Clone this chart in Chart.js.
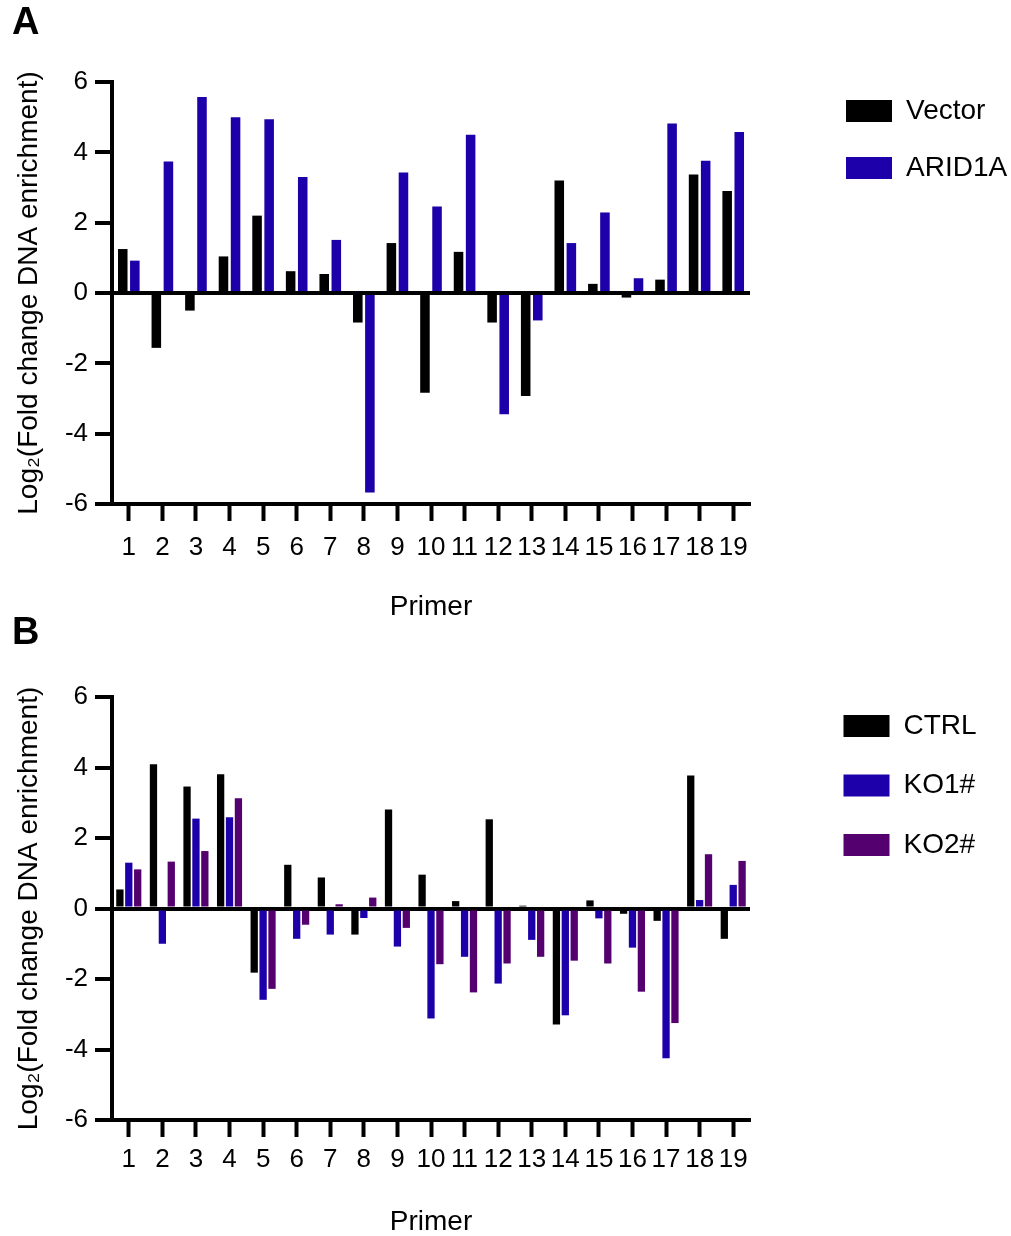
<!DOCTYPE html>
<html>
<head>
<meta charset="utf-8">
<script src="https://cdn.jsdelivr.net/npm/chart.js@4.4.1/dist/chart.umd.min.js"></script>
<style>
  html, body { margin: 0; padding: 0; background: #fff; overflow: hidden; }
  .panel { position: absolute; left: 0; width: 1011px; }
  #panelA { top: 0; height: 625px; }
  #panelB { top: 603px; height: 633px; }
</style>
</head>
<body>
<div class="panel" id="panelA"><canvas id="chartA"></canvas></div>
<div class="panel" id="panelB"><canvas id="chartB"></canvas></div>
<script>
// primers 1..19
const primers = ["1", "2", "3", "4", "5", "6", "7", "8", "9", "10", "11", "12", "13", "14", "15", "16", "17", "18", "19"]
const yTicks = [-6, -4, -2, 0, 2, 4, 6]

// panel A
const vectorValues = [1.25, -1.56, -0.50, 1.04, 2.20, 0.62, 0.54, -0.84, 1.42, -2.84, 1.17, -0.84, -2.93, 3.20, 0.26, -0.13, 0.38, 3.37, 2.90]
const arid1aValues = [0.92, 3.74, 5.57, 5.00, 4.94, 3.30, 1.51, -5.67, 3.43, 2.46, 4.50, -3.45, -0.78, 1.42, 2.29, 0.42, 4.82, 3.76, 4.58]

// panel B
const ctrlValues = [0.54, 4.09, 3.46, 3.81, -1.82, 1.24, 0.88, -0.74, 2.81, 0.96, 0.21, 2.53, 0.08, -3.29, 0.23, -0.15, -0.35, 3.77, -0.86]
const ko1Values = [1.30, -1.00, 2.55, 2.59, -2.59, -0.86, -0.74, -0.27, -1.08, -3.12, -1.37, -2.13, -0.89, -3.03, -0.28, -1.11, -4.25, 0.24, 0.67]
const ko2Values = [1.11, 1.33, 1.63, 3.13, -2.28, -0.46, 0.12, 0.31, -0.55, -1.58, -2.38, -1.56, -1.37, -1.48, -1.56, -2.36, -3.25, 1.54, 1.35]

const BLACK = "#000000"
const BLUE = "#1D00A9"
const PURPLE = "#55006F"

Chart.defaults.font.family = "'Liberation Sans', Arial, sans-serif"
Chart.defaults.color = "#000"
Chart.defaults.animation = false

// move the legend away from the plot, like the original figure
const legendShift = {
    id: "legendShift",
    afterLayout(chart, args, opts) {
        const l = chart.legend
        if (!l) return
        l.left += opts.dx
        l.right += opts.dx
    }
}

function makeOptions(p) {
    return {
        responsive: true,
        maintainAspectRatio: false,
        layout: { padding: { left: 12, right: 0, top: 0, bottom: 0 } },
        datasets: {
            bar: { categoryPercentage: p.catPct, barPercentage: p.barPct, borderWidth: 0 }
        },
        plugins: {
            tooltip: { enabled: false },
            legendShift: { dx: p.legendDx },
            title: {
                display: true,
                text: p.letter,
                align: "start",
                color: "#000",
                font: { size: 38, weight: "bold", lineHeight: 1.2 },
                padding: { top: p.titleTop, bottom: p.titleBottom }
            },
            legend: {
                position: "right",
                align: "start",
                title: {
                    display: true,
                    text: "",
                    font: { size: 10, lineHeight: 1 },
                    padding: { top: p.legendOffset, bottom: 0 }
                },
                labels: {
                    boxWidth: 46,
                    boxHeight: 22,
                    padding: p.legendGap,
                    color: "#000",
                    font: { size: 28 }
                }
            }
        },
        scales: {
            x: {
                offset: true,
                afterFit: (s) => { s.paddingRight = 261; s.height = p.xHeight },
                grid: {
                    offset: false,
                    drawOnChartArea: false,
                    drawTicks: true,
                    tickLength: 17,
                    tickWidth: 4,
                    tickColor: "#000"
                },
                border: { display: true, color: "#000", width: 4 },
                ticks: { font: { size: 26 }, padding: p.xTickPad, color: "#000", maxRotation: 0, autoSkip: false },
                title: {
                    display: true,
                    text: "Primer",
                    color: "#000",
                    font: { size: 28, lineHeight: 1 },
                    padding: { top: 0, bottom: p.xTitleBottom }
                }
            },
            y: {
                min: -6,
                max: 6,
                z: 1,
                afterFit: (s) => { s.width = 100 },
                afterBuildTicks: (s) => { s.ticks = yTicks.map(v => ({ value: v })) },
                grid: {
                    drawOnChartArea: true,
                    color: (ctx) => (ctx.tick && ctx.tick.value === 0 ? "#000" : "rgba(0,0,0,0)"),
                    lineWidth: 4,
                    drawTicks: true,
                    tickLength: 17,
                    tickWidth: 4,
                    tickColor: "#000"
                },
                border: { display: true, color: "#000", width: 4 },
                ticks: { font: { size: 26 }, padding: 7, color: "#000" },
                title: {
                    display: true,
                    text: "Log\u2082(Fold change DNA enrichment)",
                    color: "#000",
                    font: { size: 28, lineHeight: 1.2 },
                    padding: { top: 0, bottom: 0 }
                }
            }
        }
    }
}

new Chart(document.getElementById("chartA"), {
    type: "bar",
    data: {
        labels: primers,
        datasets: [
            { label: "Vector", data: vectorValues, backgroundColor: BLACK },
            { label: "ARID1A", data: arid1aValues, backgroundColor: BLUE }
        ]
    },
    options: makeOptions({
        letter: "A", titleTop: 0.7, titleBottom: 35.7,
        catPct: 0.72, barPct: 0.79,
        legendDx: 67, legendOffset: 58, legendGap: 29,
        xHeight: 121, xTickPad: 10.9, xTitleBottom: 4
    }),
    plugins: [legendShift]
});

new Chart(document.getElementById("chartB"), {
    type: "bar",
    data: {
        labels: primers,
        datasets: [
            { label: "CTRL", data: ctrlValues, backgroundColor: BLACK },
            { label: "KO1#", data: ko1Values, backgroundColor: BLUE },
            { label: "KO2#", data: ko2Values, backgroundColor: PURPLE }
        ]
    },
    options: makeOptions({
        letter: "B", titleTop: 7.7, titleBottom: 40.7,
        catPct: 0.795, barPct: 0.82,
        legendDx: 62, legendOffset: 67.5, legendGap: 31.5,
        xHeight: 116, xTickPad: 7.4, xTitleBottom: 0
    }),
    plugins: [legendShift]
});
</script>
</body>
</html>
